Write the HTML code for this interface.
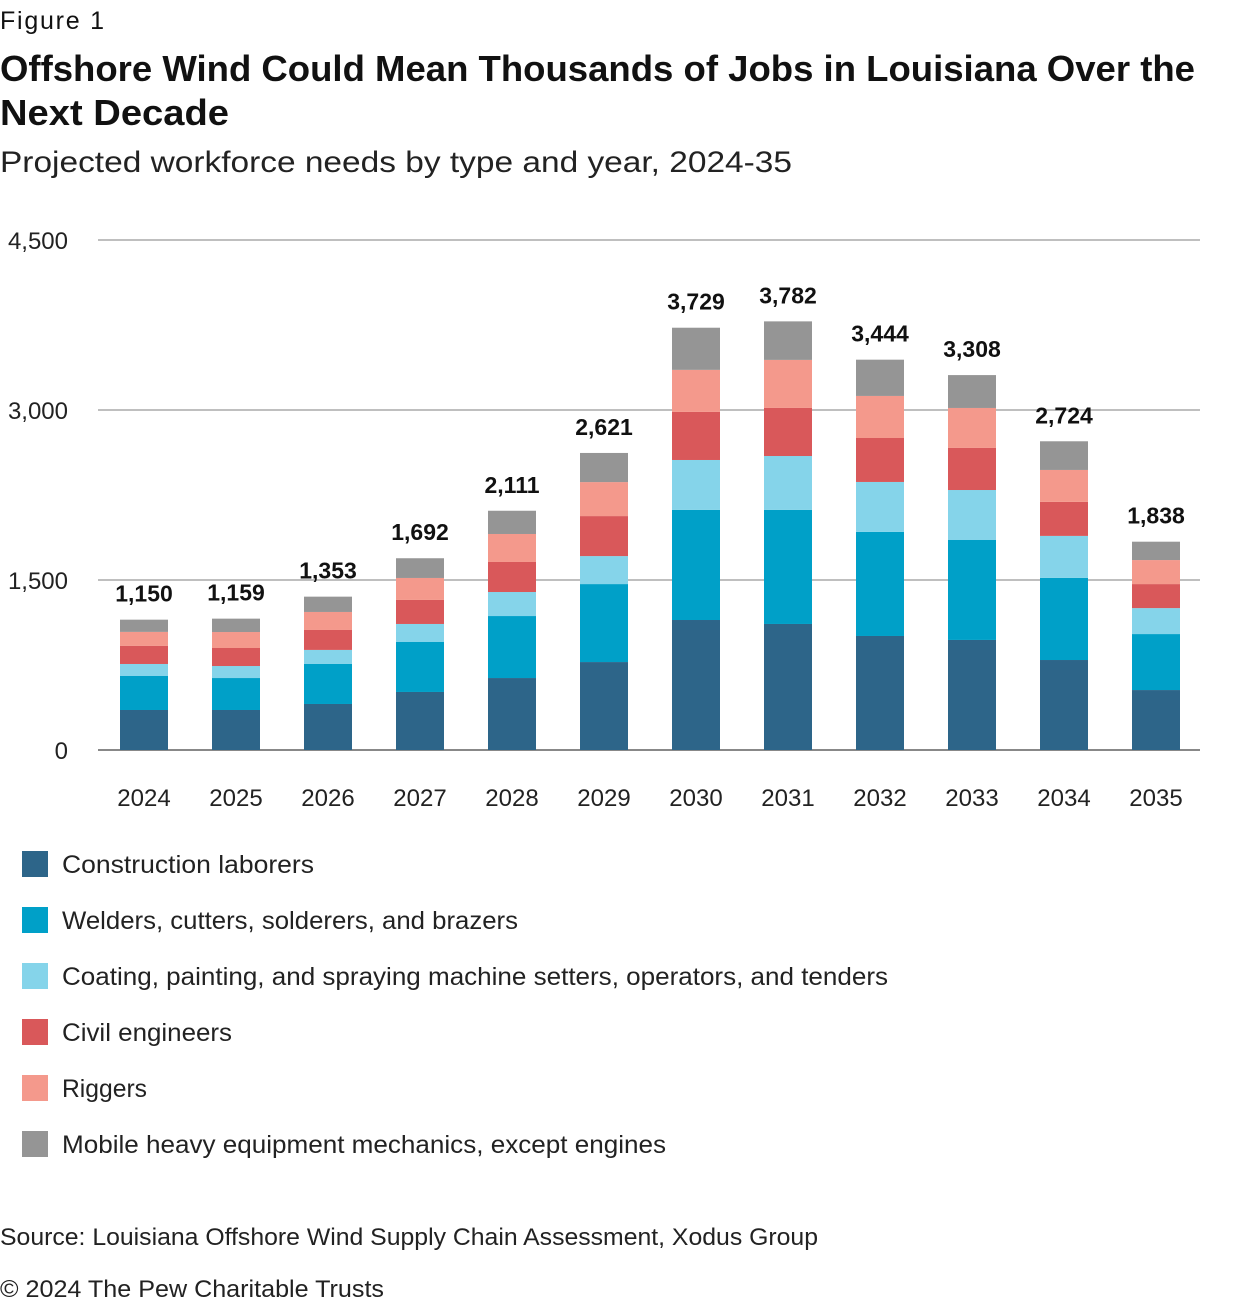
<!DOCTYPE html>
<html><head><meta charset="utf-8"><style>
body{margin:0;background:#fff;width:1240px;height:1304px;overflow:hidden;font-family:"Liberation Sans",sans-serif;color:#111}
svg{display:block}
</style></head><body>
<svg id="chart" width="1240" height="1304" viewBox="0 0 1240 1304" xmlns="http://www.w3.org/2000/svg" font-family="Liberation Sans, sans-serif">
<text x="0" y="29" font-size="25" fill="#111" textLength="104">Figure 1</text>
<text x="0" y="81" font-size="36" font-weight="bold" fill="#111" textLength="1195" lengthAdjust="spacingAndGlyphs">Offshore Wind Could Mean Thousands of Jobs in Louisiana Over the</text>
<text x="0" y="125" font-size="36" font-weight="bold" fill="#111" textLength="229" lengthAdjust="spacingAndGlyphs">Next Decade</text>
<text x="0" y="172" font-size="30" fill="#222" textLength="792" lengthAdjust="spacingAndGlyphs">Projected workforce needs by type and year, 2024-35</text>
<g id="grid"></g><g id="bars"></g><g id="labels"></g><g id="legend"></g>
<text x="0" y="1245" font-size="24" fill="#222" textLength="818" lengthAdjust="spacingAndGlyphs">Source: Louisiana Offshore Wind Supply Chain Assessment, Xodus Group</text>
<text x="0" y="1297" font-size="24" fill="#222" textLength="384" lengthAdjust="spacingAndGlyphs">© 2024 The Pew Charitable Trusts</text>
</svg>
<script>
const years=["2024","2025","2026","2027","2028","2029","2030","2031","2032","2033","2034","2035"];
const construction=[353,353,406,512,635,776,1147,1112,1006,971,794,529];
const welders=[300,282,353,441,547,688,971,1006,918,882,724,494];
const coating=[106,106,124,159,212,247,441,476,441,441,371,229];
const civil=[159,159,176,212,265,353,424,424,388,371,300,212];
const riggers=[124,141,159,194,247,300,371,424,371,353,282,212];
const mobile=[108,118,135,174,205,257,372,340,320,290,253,162];
const totals=["1,150","1,159","1,353","1,692","2,111","2,621","3,729","3,782","3,444","3,308","2,724","1,838"];
const yTicks=[0,1500,3000,4500];
const yTickLabels=["0","1,500","3,000","4,500"];
const seriesNames=["Construction laborers","Welders, cutters, solderers, and brazers","Coating, painting, and spraying machine setters, operators, and tenders","Civil engineers","Riggers","Mobile heavy equipment mechanics, except engines"];
const legendWidths=[252,456,826,170,85,604];
const colors=["#2d6589","#00a0c8","#85d4ea","#d9585a","#f4998c","#959595"];
const series=[construction,welders,coating,civil,riggers,mobile];
const NS="http://www.w3.org/2000/svg";
const y=v=>750-v*(510/4500);
const x=i=>144+i*92;
function mk(t,a,p){const e=document.createElementNS(NS,t);for(const k in a)e.setAttribute(k,a[k]);p.appendChild(e);return e;}
const grid=document.getElementById('grid');
yTicks.forEach((t,i)=>{
 const l=mk('line',{x1:98,x2:1200,y1:y(t),y2:y(t),stroke:i==0?'#888':'#aaa','stroke-width':i==0?2:1.5},grid);
 
 
 const tx=mk('text',{x:68,y:y(t)+9,'text-anchor':'end','font-size':24,fill:'#222'},grid);
 tx.textContent=yTickLabels[i];
 
 
});
const bars=document.getElementById('bars'),labels=document.getElementById('labels');
years.forEach((yr,i)=>{
 let cum=0;
 series.forEach((s,j)=>{
  const r=mk('rect',{x:x(i)-24,width:48,y:y(cum+s[i]),height:y(cum)-y(cum+s[i]),fill:colors[j]},bars);
  
  
  cum+=s[i];
 });
 const t=mk('text',{x:x(i),y:y(cum)-18,'text-anchor':'middle','font-size':23,'font-weight':'bold',fill:'#111'},labels);
 t.textContent=totals[i];
 
 
 const xl=mk('text',{x:x(i),y:806,'text-anchor':'middle','font-size':24,fill:'#222'},labels);
 xl.textContent=yr;
 
 
});
const lg=document.getElementById('legend');
seriesNames.forEach((n,j)=>{
 const cy=864+j*56;
 const r=mk('rect',{x:22,y:cy-13,width:26,height:26,fill:colors[j]},lg);
 
 
 const t=mk('text',{x:62,y:cy+9,'font-size':25,fill:'#222',textLength:legendWidths[j],lengthAdjust:'spacingAndGlyphs'},lg);
 t.textContent=n;
 
 
});
</script>
</body></html>
